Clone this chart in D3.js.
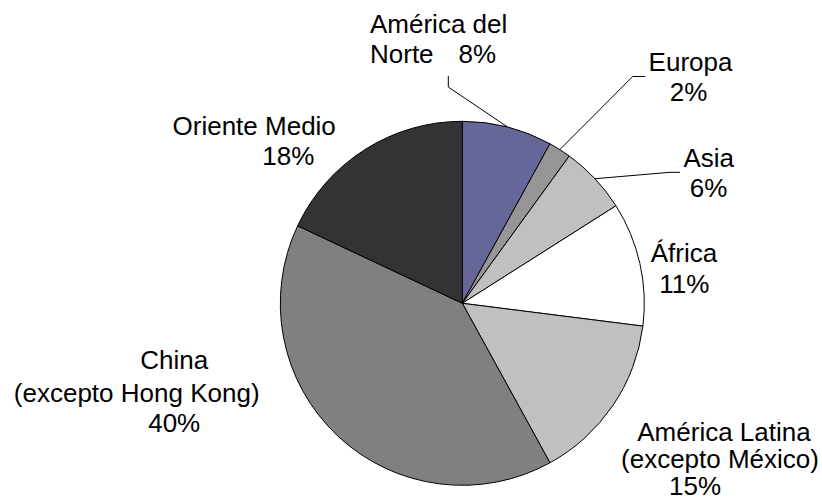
<!DOCTYPE html>
<html>
<head>
<meta charset="utf-8">
<script src="https://cdn.jsdelivr.net/npm/d3@7"></script>
<style>
  html, body { margin: 0; padding: 0; background: #fff; }
  svg { display: block; }
  text { font-family: "Liberation Sans", Arial, sans-serif; font-size: 26px; fill: #000; }
</style>
</head>
<body>
<svg id="chart" width="822" height="498"></svg>
<script>
// Regions, clockwise from 12 o'clock
const regions = ["América del Norte", "Europa", "Asia", "África",
                 "América Latina (excepto México)", "China (excepto Hong Kong)", "Oriente Medio"];
const shares = [8, 2, 6, 11, 15, 40, 18];
const sliceColors = ["#666699", "#969696", "#c0c0c0", "#ffffff", "#c0c0c0", "#808080", "#333333"];

// Label layout: text lines (the share is appended as its own line), anchor points and leader elbows
const labelLayout = [
  { lines: [["América del", 370, 33, "start"], ["Norte", 370, 63, "start"]], pct: [496, 63, "end"],
    leader: [[448.3, 76], [448.3, 87]] },
  { lines: [["Europa", 690.5, 70.5, "middle"]], pct: [688.5, 101, "middle"],
    leader: [[645, 76.5], [632.7, 76.5]] },
  { lines: [["Asia", 708.7, 166.7, "middle"]], pct: [708.5, 196.7, "middle"],
    leader: [[680, 172.3], [670, 172.3]] },
  { lines: [["África", 684, 262.3, "middle"]], pct: [684.3, 293.3, "middle"], leader: null },
  { lines: [["América Latina", 724, 441, "middle"], ["(excepto México)", 720, 468.3, "middle"]],
    pct: [695, 494.5, "middle"], leader: null },
  { lines: [["China", 174.2, 369, "middle"], ["(excepto Hong Kong)", 136.7, 401.7, "middle"]],
    pct: [174.2, 431.7, "middle"], leader: null },
  { lines: [["Oriente Medio", 254.2, 135, "middle"]], pct: [288.3, 165, "middle"], leader: null }
];

const cx = 462.3, cy = 303.3, radius = 182;

const svg = d3.select("#chart");
const g = svg.append("g").attr("transform", `translate(${cx},${cy})`);

const pie = d3.pie().sort(null).value(d => d).startAngle(0).endAngle(2 * Math.PI);
const arcs = pie(shares);
const arc = d3.arc().innerRadius(0).outerRadius(radius);

g.selectAll("path.slice")
  .data(arcs)
  .join("path")
  .attr("class", "slice")
  .attr("d", arc)
  .attr("fill", (d, i) => sliceColors[i])
  .attr("stroke", "#000")
  .attr("stroke-width", 1)
  .attr("stroke-linejoin", "round");

// Leader lines run from the label elbow to the rim at the slice mid-angle
const line = d3.line();
arcs.forEach((a, i) => {
  const lay = labelLayout[i];
  if (!lay.leader) return;
  const mid = (a.startAngle + a.endAngle) / 2;
  const rim = [cx + radius * Math.sin(mid), cy - radius * Math.cos(mid)];
  svg.append("path")
    .attr("d", line([...lay.leader, rim]))
    .attr("fill", "none")
    .attr("stroke", "#000")
    .attr("stroke-width", 1);
});

// Labels
const labels = svg.append("g");
labelLayout.forEach((lay, i) => {
  lay.lines.forEach(([t, x, y, anchor]) => {
    labels.append("text").attr("x", x).attr("y", y).attr("text-anchor", anchor).text(t);
  });
  const [px, py, pa] = lay.pct;
  labels.append("text").attr("x", px).attr("y", py).attr("text-anchor", pa).text(`${shares[i]}%`);
});
</script>
</body>
</html>
